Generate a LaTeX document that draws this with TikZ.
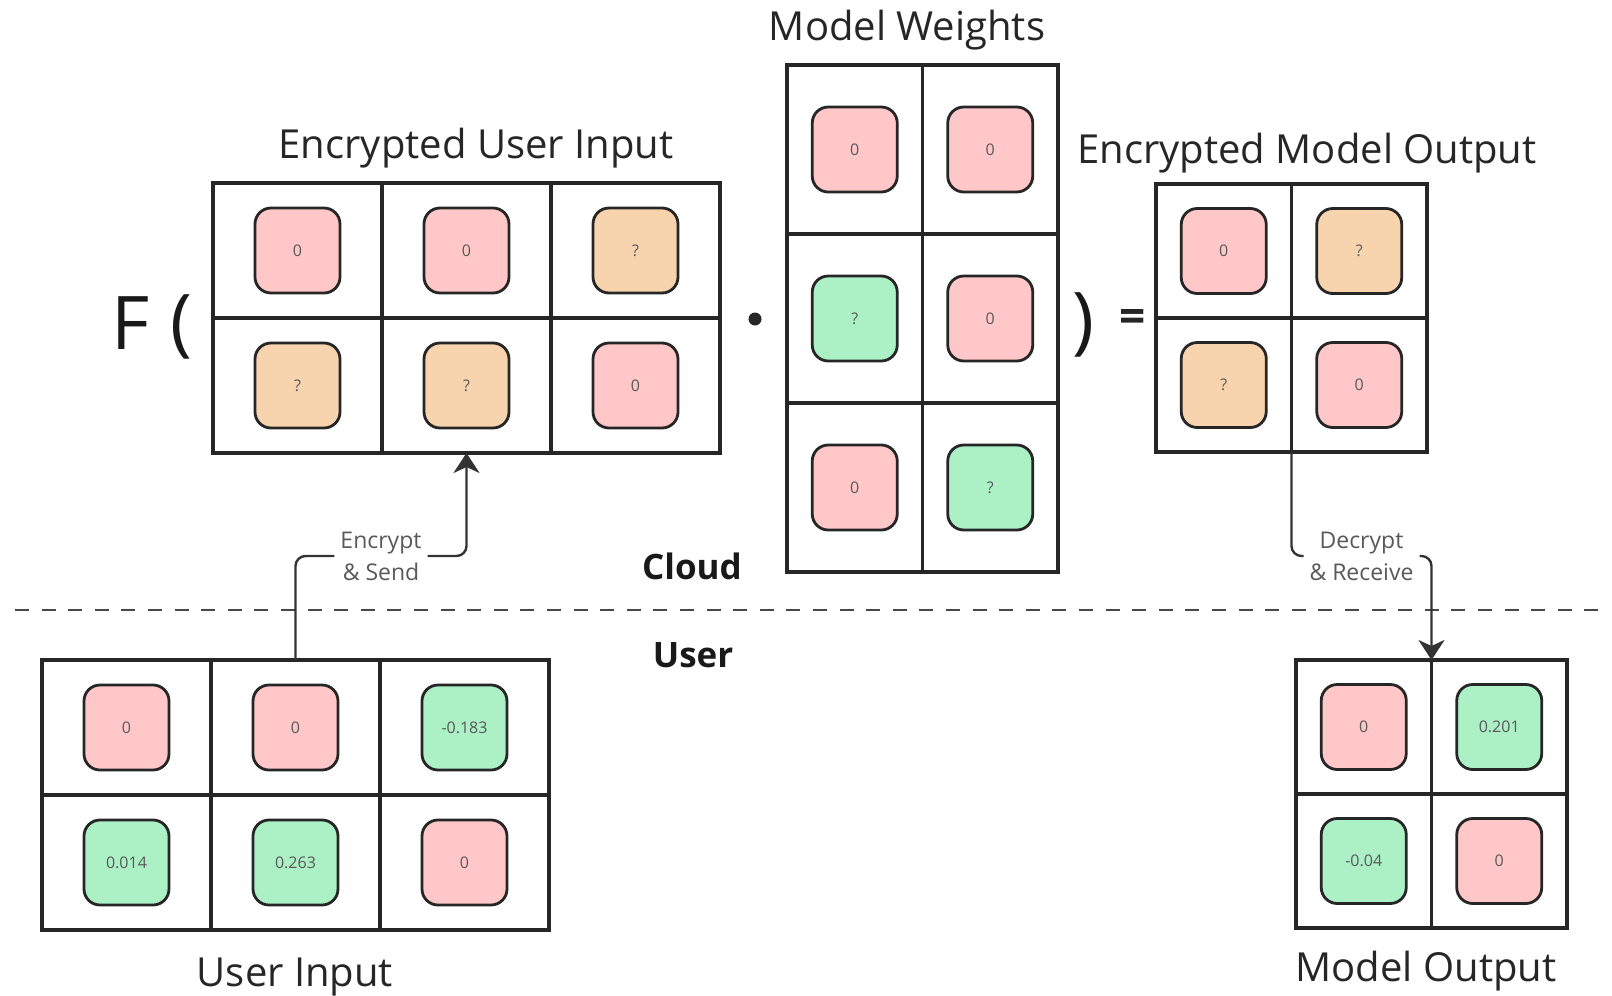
\documentclass[tikz,border=0pt]{standalone}
\usepackage{fontspec}
\setmainfont{Open Sans}
\usepackage{xcolor}
\usepackage{tikz}
\usetikzlibrary{positioning,arrows.meta}

\definecolor{zeropink}{HTML}{FFC7C7}
\definecolor{hiddenpeach}{HTML}{F7D4AE}
\definecolor{valgreen}{HTML}{ACF0C6}
\definecolor{inkgray}{HTML}{262626}

\begin{document}
\begin{tikzpicture}[x=0.5pt, y=-0.5pt,
  cellbox/.style={draw=inkgray, line width=1.6pt, outer sep=0pt, inner sep=0pt, font=\fontsize{8}{9}\selectfont, text=black!65},
  widecell/.style={cellbox, minimum width=84.5pt, minimum height=67.5pt},
  squarecell/.style={cellbox, minimum width=67.75pt, minimum height=67pt},
  tallcell/.style={cellbox, minimum width=67.75pt, minimum height=84.5pt},
  chip/.style={path picture={\draw[draw=inkgray, line width=1.4pt, fill=#1, rounded corners=8pt] ([shift={(-21.25pt,-21.25pt)}]path picture bounding box.center) rectangle ([shift={(21.25pt,21.25pt)}]path picture bounding box.center);}},
  title/.style={font=\fontsize{20}{24}\selectfont, text=black!85, inner sep=0pt},
  side/.style={font=\bfseries\fontsize{17.5}{21}\selectfont, text=black!90, inner sep=0pt},
  stepnote/.style={font=\fontsize{11.5}{16}\selectfont, text=black!65, fill=white, align=center, inner sep=3pt},
  op/.style={font=\fontsize{37}{40}\selectfont, text=black!90, inner sep=0pt},
  link/.style={draw=black!80, line width=1.2pt, rounded corners=5pt, -{Stealth[length=10pt, width=13pt, inset=3pt]}}]

\useasboundingbox (0,0) rectangle (1612,996);

%Nodes
% encrypted user input (2x3)
\node[widecell, chip=zeropink]    (ein11) at (297.5,250.5) {0};
\node[widecell, chip=zeropink]    (ein12) [right=0pt of ein11] {0};
\node[widecell, chip=hiddenpeach] (ein13) [right=0pt of ein12] {?};
\node[widecell, chip=hiddenpeach] (ein21) [below=0pt of ein11] {?};
\node[widecell, chip=hiddenpeach] (ein22) [right=0pt of ein21] {?};
\node[widecell, chip=zeropink]    (ein23) [right=0pt of ein22] {0};

% model weights (3x2)
\node[tallcell, chip=zeropink]  (mw11) at (854.75,149.5) {0};
\node[tallcell, chip=zeropink]  (mw12) [right=0pt of mw11] {0};
\node[tallcell, chip=valgreen]  (mw21) [below=0pt of mw11] {?};
\node[tallcell, chip=zeropink]  (mw22) [right=0pt of mw21] {0};
\node[tallcell, chip=zeropink]  (mw31) [below=0pt of mw21] {0};
\node[tallcell, chip=valgreen]  (mw32) [right=0pt of mw31] {?};

% encrypted model output (2x2)
\node[squarecell, chip=zeropink]    (eout11) at (1223.75,251) {0};
\node[squarecell, chip=hiddenpeach] (eout12) [right=0pt of eout11] {?};
\node[squarecell, chip=hiddenpeach] (eout21) [below=0pt of eout11] {?};
\node[squarecell, chip=zeropink]    (eout22) [right=0pt of eout21] {0};

% user input (2x3)
\node[widecell, chip=zeropink]  (uin11) at (126.5,727.5) {0};
\node[widecell, chip=zeropink]  (uin12) [right=0pt of uin11] {0};
\node[widecell, chip=valgreen]  (uin13) [right=0pt of uin12] {-0.183};
\node[widecell, chip=valgreen]  (uin21) [below=0pt of uin11] {0.014};
\node[widecell, chip=valgreen]  (uin22) [right=0pt of uin21] {0.263};
\node[widecell, chip=zeropink]  (uin23) [right=0pt of uin22] {0};

% model output (2x2)
\node[squarecell, chip=zeropink]  (mout11) at (1363.75,727) {0};
\node[squarecell, chip=valgreen]  (mout12) [right=0pt of mout11] {0.201};
\node[squarecell, chip=valgreen]  (mout21) [below=0pt of mout11] {-0.04};
\node[squarecell, chip=zeropink]  (mout22) [right=0pt of mout21] {0};

% titles
\node[title] (einlabel)  at (476,148)  {Encrypted User Input};
\node[title] (mwlabel)   at (907,30)   {Model Weights};
\node[title] (eoutlabel) at (1307,153) {Encrypted Model Output};
\node[title] (uinlabel)  at (295,977)  {User Input};
\node[title] (moutlabel) at (1426,971) {Model Output};

% F( . ) =
\node[op] (fsym) at (131,323) {F};
\node[op] (lpar) at (181,327) {(};
\node[circle, fill=inkgray, minimum size=6.5pt, inner sep=0pt] (mdot) at (755,319) {};
\node[op] (rpar) at (1083,325) {)};
\node[title, font=\bfseries\fontsize{23}{26}\selectfont] (eqsign) at (1133,321) {=};

% sides of the split
\node[side] (cloudside) at (692,566) {Cloud};
\node[side] (userside)  at (693,655) {User};

\coordinate (splitl)  at (15,610);
\coordinate (splitr)  at (1604,610);
\coordinate (sendlvl) at (0,556);
\coordinate (recvlvl) at (0,556);

%Lines
\draw[black!72, line width=1.4pt, dash pattern=on 7pt off 6.3pt] (splitl) -- (splitr);
\draw[link] (uin12.north) -- (uin12.north |- sendlvl) -- node[stepnote] (sendnote) {Encrypt\\\& Send} (ein22.south |- sendlvl) -- (ein22.south);
\draw[link] (eout21.south east) -- (eout21.south east |- recvlvl) -- node[stepnote] (recvnote) {Decrypt\\\& Receive} (mout11.north east |- recvlvl) -- (mout11.north east);

\end{tikzpicture}
\end{document}
